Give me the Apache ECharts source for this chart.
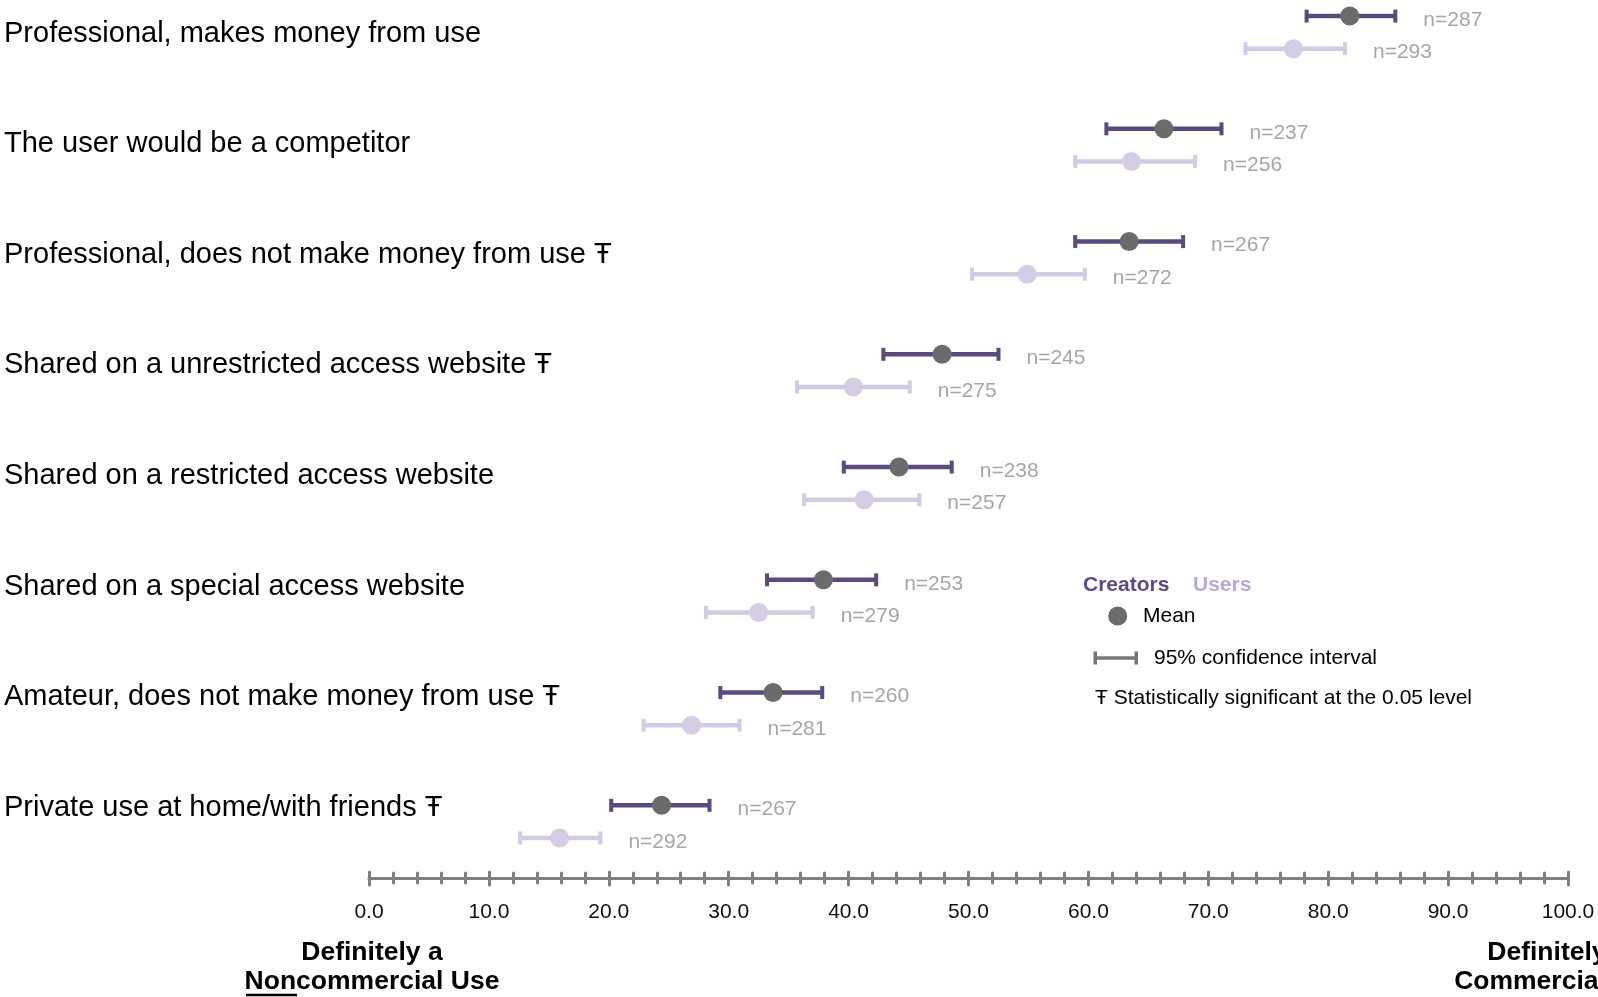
<!DOCTYPE html>
<html><head><meta charset="utf-8">
<script src="https://cdn.jsdelivr.net/npm/echarts@6/dist/echarts.min.js"></script>
<style>html,body{margin:0;padding:0;background:#fff}#c{width:1598px;height:997px}</style>
</head><body><div id="c"></div>
<script>
// ---------- data ----------
const categories = [
  'Professional, makes money from use',
  'The user would be a competitor',
  'Professional, does not make money from use \u0166',
  'Shared on a unrestricted access website \u0166',
  'Shared on a restricted access website',
  'Shared on a special access website',
  'Amateur, does not make money from use \u0166',
  'Private use at home/with friends \u0166'
];
const creatorsMean = [81.8, 66.3, 63.4, 47.8, 44.2, 37.9, 33.7, 24.4];
const creatorsLow  = [78.2, 61.5, 58.9, 42.9, 39.6, 33.2, 29.3, 20.2];
const creatorsHigh = [85.6, 71.1, 67.9, 52.5, 48.6, 42.3, 37.8, 28.4];
const creatorsN    = [287, 237, 267, 245, 238, 253, 260, 267];
const usersMean = [77.1, 63.6, 54.9, 40.4, 41.3, 32.5, 26.9, 15.9];
const usersLow  = [73.1, 58.9, 50.3, 35.7, 36.3, 28.1, 22.9, 12.6];
const usersHigh = [81.4, 68.9, 59.7, 45.1, 45.9, 37.0, 30.9, 19.3];
const usersN    = [293, 256, 272, 275, 257, 279, 281, 292];
const axisMin = 0, axisMax = 100, axisStep = 10;

// ---------- chart ----------
const FONT = '"Liberation Sans", Arial, Helvetica, sans-serif';
const chart = echarts.init(document.getElementById('c'), null, {renderer: 'canvas'});

function groupData(lows, highs, means, ns) {
  return categories.map((c, i) => [lows[i], highs[i], means[i], i, ns[i]]);
}
function makeRenderer(offset, lineColor, dotColor) {
  return function (params, api) {
    const cat = api.value(3);
    const m = api.coord([api.value(2), cat]);
    const y = m[1] + offset;
    const xl = api.coord([api.value(0), cat])[0];
    const xh = api.coord([api.value(1), cat])[0];
    const capH = 13, capW = 4;
    return {
      type: 'group',
      children: [
        {type: 'line', shape: {x1: xl, y1: y, x2: xh, y2: y}, style: {stroke: lineColor, lineWidth: 4.5}},
        {type: 'rect', shape: {x: xl - capW / 2, y: y - capH / 2, width: capW, height: capH}, style: {fill: lineColor}},
        {type: 'rect', shape: {x: xh - capW / 2, y: y - capH / 2, width: capW, height: capH}, style: {fill: lineColor}},
        {type: 'circle', shape: {cx: m[0], cy: y, r: 9.5}, style: {fill: dotColor}},
        {type: 'text', x: xh + 28, y: y + 4,
          style: {text: 'n=' + api.value(4), fill: '#a6a6a6', font: '21px ' + FONT,
                  align: 'left', verticalAlign: 'middle', textAlign: 'left', textVerticalAlign: 'middle'}}
      ]
    };
  };
}

const tickStyle = {color: '#808080', width: 3, cap: 'round'};
const xCommon = {type: 'value', min: axisMin, max: axisMax, interval: axisStep, gridIndex: 0, position: 'bottom',
  splitLine: {show: false}, minorSplitLine: {show: false}};

function txt(text, x, y, font, fill, align) {
  return {type: 'text', x: x, y: y, style: {text: text, font: font, fill: fill || '#000',
    align: align || 'left', verticalAlign: 'middle', textAlign: align || 'left', textVerticalAlign: 'middle'}};
}

const option = {
  backgroundColor: '#ffffff',
  animation: false,
  grid: [
    {left: 369, right: 30, top: -24, bottom: 119, outerBoundsMode: 'none', containLabel: false},
    {left: 369, right: 30, top: -21.7, bottom: 133.9, outerBoundsMode: 'none', containLabel: false}
  ],
  xAxis: [
    Object.assign({}, xCommon, {
      axisLine: {show: true, lineStyle: {color: '#808080', width: 3}},
      axisTick: {show: true, inside: false, length: 7, lineStyle: tickStyle},
      minorTick: {show: true, splitNumber: 5, length: 5, lineStyle: tickStyle},
      axisLabel: {formatter: v => v.toFixed(1), color: '#111', fontSize: 21, fontFamily: FONT, margin: 24}
    }),
    Object.assign({}, xCommon, {
      axisLine: {show: false},
      axisTick: {show: true, inside: true, length: 6, lineStyle: tickStyle},
      minorTick: {show: true, splitNumber: 5, length: 5, lineStyle: tickStyle},
      axisLabel: {show: false}
    }),
    {type: 'value', gridIndex: 1, min: axisMin, max: axisMax, show: false}
  ],
  yAxis: [
    {type: 'category', gridIndex: 0, data: categories, inverse: true, show: false},
    {type: 'category', gridIndex: 1, data: categories, inverse: true,
      axisLine: {show: false}, axisTick: {show: false}, splitLine: {show: false},
      axisLabel: {align: 'left', margin: 365, fontSize: 29, color: '#000', fontFamily: FONT}}
  ],
  series: [
    {name: 'Users', type: 'custom', xAxisIndex: 0, yAxisIndex: 0,
      renderItem: makeRenderer(16.3, '#d3cae3', '#d5cde4'),
      encode: {x: [0, 1, 2], y: 3},
      data: groupData(usersLow, usersHigh, usersMean, usersN)},
    {name: 'Creators', type: 'custom', xAxisIndex: 0, yAxisIndex: 0,
      renderItem: makeRenderer(-16.3, '#5b4a7e', '#6b6b6b'),
      encode: {x: [0, 1, 2], y: 3},
      data: groupData(creatorsLow, creatorsHigh, creatorsMean, creatorsN)}
  ],
  graphic: [
    txt('Creators', 1083, 585, 'bold 21px ' + FONT, '#5d4a86'),
    txt('Users', 1193, 585, 'bold 21px ' + FONT, '#b7a8d6'),
    {type: 'circle', shape: {cx: 1117.7, cy: 616, r: 9.5}, style: {fill: '#6b6b6b'}},
    txt('Mean', 1143, 616, '21px ' + FONT, '#000'),
    {type: 'line', shape: {x1: 1095, y1: 658, x2: 1136, y2: 658}, style: {stroke: '#777777', lineWidth: 3.5}},
    {type: 'rect', shape: {x: 1093.5, y: 651.5, width: 3.5, height: 13}, style: {fill: '#777777'}},
    {type: 'rect', shape: {x: 1134.5, y: 651.5, width: 3.5, height: 13}, style: {fill: '#777777'}},
    txt('95% confidence interval', 1154, 658, '21px ' + FONT, '#000'),
    txt('\u0166 Statistically significant at the 0.05 level', 1095, 698, '21px ' + FONT, '#000'),
    txt('Definitely a', 372, 953, 'bold 26.5px ' + FONT, '#000', 'center'),
    txt('Noncommercial Use', 372, 982, 'bold 26.5px ' + FONT, '#000', 'center'),
    {type: 'line', shape: {x1: 246, y1: 995, x2: 297, y2: 995}, style: {stroke: '#000', lineWidth: 2.5}},
    txt('Definitely a', 1558, 953, 'bold 26.5px ' + FONT, '#000', 'center'),
    txt('Commercial Use', 1558, 982, 'bold 26.5px ' + FONT, '#000', 'center')
  ]
};
chart.setOption(option);
</script>
</body></html>
